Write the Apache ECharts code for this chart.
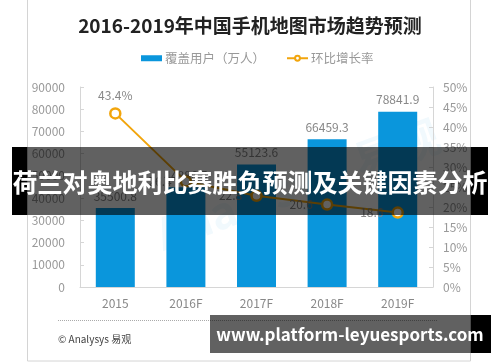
<!DOCTYPE html>
<html><head><meta charset="utf-8">
<script src="https://cdn.jsdelivr.net/npm/echarts@6/dist/echarts.min.js"></script>
<style>html,body{margin:0;padding:0;background:#fff}#c{width:500px;height:362px}</style>
</head><body><div id="c"></div>
<script>
const categories = ['2015', '2016F', '2017F', '2018F', '2019F'];
const users = [35500.8, 44886.5, 55123.6, 66459.3, 78841.9];
const growth = [43.4, 26.4, 22.8, 20.6, 18.6];
const leftTicks = [0, 10000, 20000, 30000, 40000, 50000, 60000, 70000, 80000, 90000];
const rightTicks = [0, 5, 10, 15, 20, 25, 30, 35, 40, 45, 50];
const titleText = '2016-2019年中国手机地图市场趋势预测';
const seriesNames = ['覆盖用户（万人）', '环比增长率'];
const bannerText = '荷兰对奥地利比赛胜负预测及关键因素分析';
const urlText = 'www.platform-leyuesports.com';
const sourceText = '© Analysys 易观';

const FONT = '"Noto Sans CJK SC", "Noto Sans", sans-serif';
const chart = echarts.init(document.getElementById('c'), null, {renderer: 'canvas'});
chart.setOption({
  backgroundColor: '#fff',
  animation: false,
  textStyle: {fontFamily: FONT},
  title: {text: titleText, left: 'center', top: 11,
    textStyle: {fontSize: 19, fontWeight: 'bold', color: '#222', fontFamily: FONT}},
  legend: {top: 47, left: 136, itemGap: 21, itemWidth: 21, itemHeight: 6,
    textStyle: {color: '#999', fontSize: 12.5, fontFamily: FONT, padding: [0, 0, 0, -2]},
    data: [{name: seriesNames[0], icon: 'rect'}, {name: seriesNames[1]}]},
  grid: {left: 80, right: 67, top: 87, bottom: 75},
  xAxis: {type: 'category', data: categories,
    axisLine: {lineStyle: {color: '#d6d6d6'}}, axisTick: {show: false},
    axisLabel: {color: '#888', fontSize: 12, margin: 10}},
  yAxis: [
    {type: 'value', min: leftTicks[0], max: leftTicks[leftTicks.length-1], interval: 10000,
      axisLine: {show: true, lineStyle: {color: '#d6d6d6'}},
      axisTick: {show: true, inside: true, length: 4, lineStyle: {color: '#d6d6d6'}},
      splitLine: {show: false}, axisLabel: {color: '#999', fontSize: 12, margin: 15, formatter: v => String(v)}},
    {type: 'value', min: rightTicks[0], max: rightTicks[rightTicks.length-1], interval: 5,
      axisLine: {show: true, lineStyle: {color: '#d6d6d6'}},
      axisTick: {show: true, inside: true, length: 4, lineStyle: {color: '#d6d6d6'}},
      splitLine: {show: false}, axisLabel: {color: '#999', fontSize: 12, margin: 10, formatter: '{value}%'}}
  ],
  series: [
    {name: seriesNames[0], type: 'bar', data: users, barWidth: 39, itemStyle: {color: '#0a96dc'},
      label: {show: true, position: 'top', distance: 6, color: '#888', fontSize: 12}},
    {name: seriesNames[1], type: 'line', yAxisIndex: 1, data: growth.map((v, i) => ({value: v,
        label: i === 0 ? {position: 'top', formatter: '{c}%', distance: 6} : {position: 'left', distance: 8}})),
      symbol: 'circle', symbolSize: 10, showSymbol: true,
      lineStyle: {color: '#f2a50c', width: 2},
      itemStyle: {color: '#fff', borderColor: '#f2a50c', borderWidth: 2.5},
      label: {show: true, color: '#888', fontSize: 12}, z: 5}
  ],
  graphic: [
    {type: 'rect', shape: {x: 27.5, y: -1, width: 443, height: 362}, style: {fill: 'none', stroke: '#d4d4d4', lineWidth: 1}, z: 1, silent: true},
    {type: 'text', x: 150, y: 215, rotation: 0.35, style: {text: 'Analysys  易观', fill: 'rgba(10,150,220,0.06)', font: 'bold 44px ' + FONT}, z: 0},
    {type: 'line', shape: {x1: 58, y1: 320.5, x2: 437, y2: 320.5}, style: {stroke: '#aaa', lineWidth: 1, lineDash: [1, 1]}, z: 1},
    {type: 'text', x: 58, y: 334, style: {text: sourceText, fill: '#444', font: '10px ' + FONT}, z: 1},
    {type: 'rect', shape: {x: 12, y: 147, width: 15.5, height: 68}, style: {fill: '#000'}, z: 100},
    {type: 'rect', shape: {x: 27.5, y: 147, width: 443, height: 68}, style: {fill: 'rgba(0,0,0,0.62)'}, z: 100},
    {type: 'rect', shape: {x: 470.5, y: 147, width: 17.5, height: 68}, style: {fill: '#000'}, z: 100},
    {type: 'text', x: 250, y: 182, style: {text: bannerText, fill: '#fff', font: 'bold 25px ' + FONT, align: 'center', verticalAlign: 'middle'}, z: 101},
    {type: 'rect', shape: {x: 210, y: 315, width: 260.5, height: 38}, style: {fill: 'rgba(0,0,0,0.62)'}, z: 100},
    {type: 'rect', shape: {x: 470.5, y: 315, width: 20.5, height: 38}, style: {fill: '#000'}, z: 100},
    {type: 'text', x: 350, y: 335, style: {text: urlText, fill: '#fff', font: 'bold 17px ' + FONT, align: 'center', verticalAlign: 'middle'}, z: 101}
  ]
});
</script></body></html>
